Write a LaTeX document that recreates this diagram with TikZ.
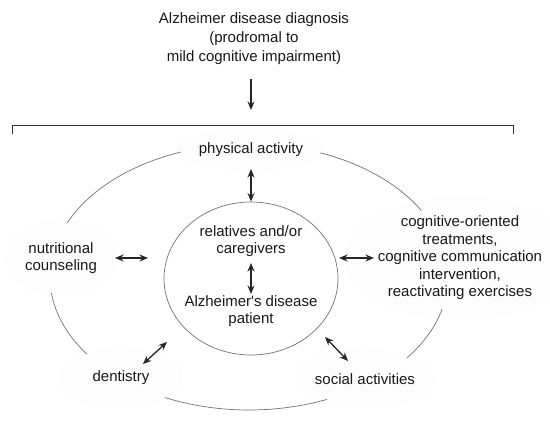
\documentclass[tikz,border=0pt]{standalone}
\usepackage{fontspec}
\setmainfont{Liberation Sans}[Ligatures=TeXOff]
\usetikzlibrary{arrows.meta,shapes.geometric}
\begin{document}
\begin{tikzpicture}[x=1pt,y=-1pt,
  txt/.style={font=\fontsize{15}{17.5}\selectfont, text=black!90, align=center, inner sep=0pt},
  bubble/.style={txt, ellipse, fill=black!0.8, draw=none},
  dbl/.style={{Stealth[length=8.5pt,width=7pt]}-{Stealth[length=8.5pt,width=7pt]}, line width=1.3pt, draw=black!85},
  sgl/.style={-{Stealth[length=8.5pt,width=7pt]}, line width=1.3pt, draw=black!85},
  arcline/.style={draw=black!55, line width=0.7pt}]
\useasboundingbox (0,0) rectangle (550,426);

% title
\node[txt, font=\fontsize{15}{19}\selectfont] (title) at (254,39) {Alzheimer disease diagnosis\\(prodromal to\\mild cognitive impairment)};
\coordinate (a1) at (251,79);
\coordinate (a2) at (251,110);
\draw[sgl] (a1) -- (a2);

% bracket
\coordinate (bl) at (12,134);
\coordinate (br) at (513,134);
\draw[line width=1pt, draw=black!80] (bl) -- (12,125) -- (513,125) -- (br);

% outer labels with faint bubbles
\node[bubble, minimum width=150, minimum height=44] (phys) at (251,150) {physical activity};
\node[bubble, minimum width=112, minimum height=78] (nutr) at (61,258) {nutritional\\counseling};
\node[bubble, minimum width=205, minimum height=125] (cogn) at (460,258) {cognitive-oriented\\treatments,\\cognitive communication\\intervention,\\reactivating exercises};
\node[bubble, minimum width=125, minimum height=62] (dent) at (121,378) {dentistry};
\node[bubble, minimum width=140, minimum height=62] (soc) at (365,379) {social activities};

% outer ellipse arcs
\coordinate (O) at (249,277);
\begin{scope}[shift={(O)}]
  \draw[arcline] (156:199pt and 133pt) arc[start angle=156, end angle=110, x radius=199pt, y radius=133pt];
  \draw[arcline] (69:199pt and 133pt) arc[start angle=69, end angle=30, x radius=199pt, y radius=133pt];
  \draw[arcline] (187:199pt and 133pt) arc[start angle=187, end angle=215.5, x radius=199pt, y radius=133pt];
  \draw[arcline] (245:199pt and 133pt) arc[start angle=245, end angle=293, x radius=199pt, y radius=133pt];
  \draw[arcline] (-14:199pt and 133pt) arc[start angle=-14, end angle=-37.5, x radius=199pt, y radius=133pt];
\end{scope}

% inner ellipse
\node[ellipse, draw=black!55, line width=0.7pt, minimum width=174, minimum height=153, inner sep=0pt] (inner) at (251,278.5) {};
\node[txt] (rel) at (251,241) {relatives and/or\\caregivers};
\node[txt] (pat) at (251,311) {Alzheimer's disease\\patient};
\coordinate (r1) at (251,263);
\coordinate (p1) at (251,294);
\draw[dbl] (r1) -- (p1);

% connectors
\coordinate (ph1) at (251,169);
\coordinate (ph2) at (251,201.5);
\draw[dbl] (ph1) -- (ph2);
\coordinate (n1) at (115,258);
\coordinate (n2) at (148,258);
\draw[dbl] (n1) -- (n2);
\coordinate (c1) at (339,258);
\coordinate (c2) at (374,258);
\draw[dbl] (c1) -- (c2);
\coordinate (d1) at (143,364);
\coordinate (d2) at (167,342);
\draw[dbl] (d1) -- (d2);
\coordinate (s1) at (325,337);
\coordinate (s2) at (348,361);
\draw[dbl] (s1) -- (s2);
\end{tikzpicture}
\end{document}
